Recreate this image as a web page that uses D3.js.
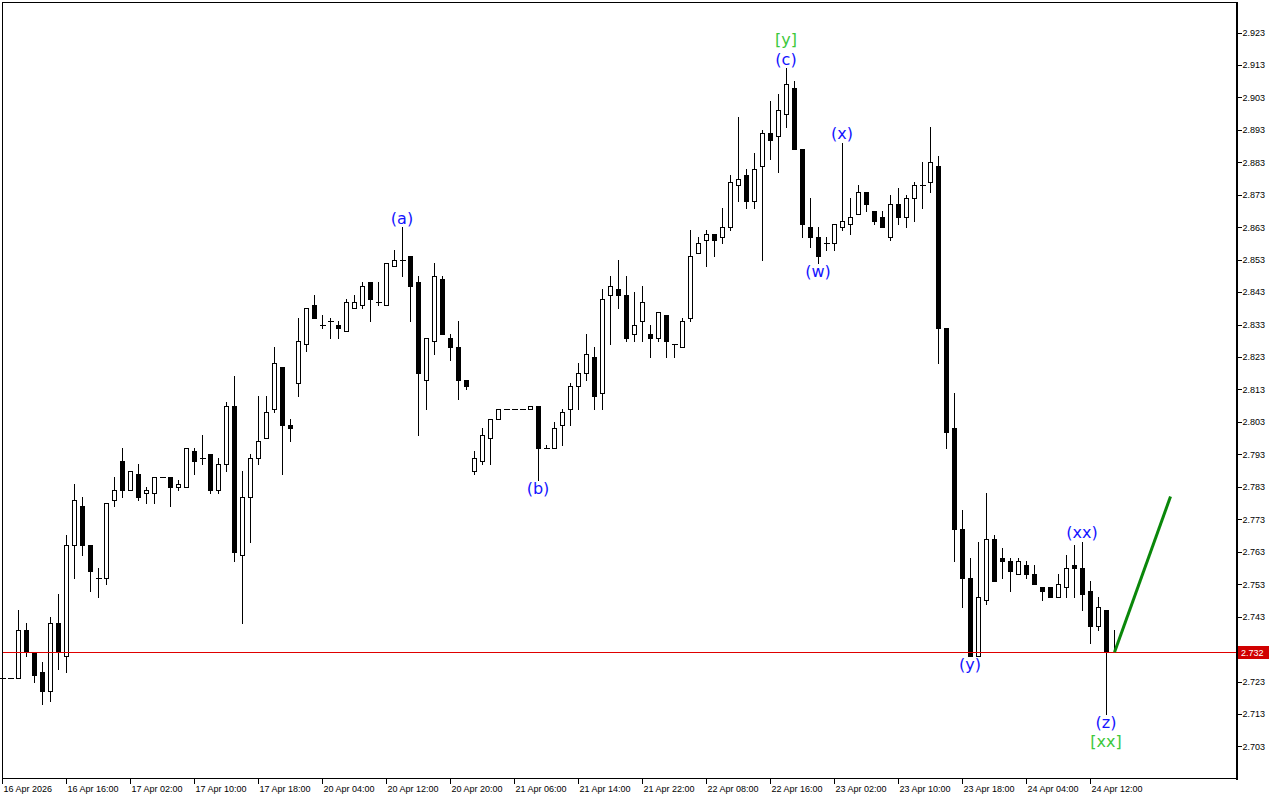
<!DOCTYPE html>
<html><head><meta charset="utf-8">
<script src="https://cdn.jsdelivr.net/npm/d3@7"></script>
<style>html,body{margin:0;padding:0;background:#fff;}svg{display:block;}</style>
</head><body>
<svg id="chart" width="1280" height="800"></svg>
<script>
// ---------- DATA ----------
const timeLabels = ["16 Apr 2026","16 Apr 16:00","17 Apr 02:00","17 Apr 10:00","17 Apr 18:00","20 Apr 04:00","20 Apr 12:00","20 Apr 20:00","21 Apr 06:00","21 Apr 14:00","21 Apr 22:00","22 Apr 08:00","22 Apr 16:00","23 Apr 02:00","23 Apr 10:00","23 Apr 18:00","24 Apr 04:00","24 Apr 12:00"];
const tickBars = [0,8,16,24,32,40,48,56,64,72,80,88,96,104,112,120,128,136];
const yTickValues = [2.703,2.713,2.723,2.733,2.743,2.753,2.763,2.773,2.783,2.793,2.803,2.813,2.823,2.833,2.843,2.853,2.863,2.873,2.883,2.893,2.903,2.913,2.923];

const open = [2.724,2.724,2.724,2.739,2.732,2.726,2.720,2.741,2.731,2.765,
2.777,2.765,2.755,2.755,2.779,2.791,2.782,2.787,2.781,2.781,
2.786,2.786,2.783,2.783,2.794,2.792,2.793,2.782,2.790,2.808,
2.762,2.780,2.792,2.798,2.807,2.820,2.802,2.815,2.827,2.839,
2.833,2.834,2.833,2.831,2.838,2.839,2.846,2.840,2.839,2.851,
2.853,2.854,2.846,2.816,2.828,2.847,2.829,2.826,2.816,2.788,
2.791,2.798,2.804,2.807,2.807,2.807,2.807,2.808,2.795,2.795,
2.802,2.807,2.814,2.818,2.823,2.812,2.842,2.844,2.842,2.830,
2.834,2.830,2.829,2.836,2.827,2.826,2.835,2.855,2.859,2.861,
2.860,2.863,2.876,2.879,2.871,2.882,2.892,2.891,2.898,2.906,
2.887,2.863,2.860,2.858,2.858,2.863,2.864,2.867,2.874,2.868,
2.866,2.860,2.870,2.866,2.872,2.876,2.877,2.882,2.832,2.801,
2.770,2.755,2.731,2.748,2.767,2.761,2.760,2.756,2.759,2.756,
2.752,2.752,2.749,2.752,2.759,2.758,2.751,2.740,2.745,2.732];

const high = [2.724,2.724,2.745,2.741,2.732,2.729,2.743,2.750,2.768,2.784,
2.780,2.765,2.758,2.778,2.786,2.795,2.788,2.790,2.783,2.786,
2.786,2.786,2.785,2.795,2.795,2.799,2.793,2.792,2.809,2.817,
2.788,2.793,2.811,2.811,2.826,2.820,2.804,2.835,2.838,2.842,
2.836,2.835,2.834,2.841,2.842,2.846,2.846,2.846,2.852,2.856,
2.863,2.854,2.848,2.829,2.852,2.848,2.830,2.834,2.816,2.794,
2.801,2.804,2.807,2.807,2.807,2.807,2.808,2.808,2.796,2.803,
2.807,2.815,2.821,2.830,2.826,2.844,2.848,2.853,2.848,2.843,
2.845,2.833,2.837,2.836,2.827,2.835,2.862,2.860,2.862,2.861,
2.869,2.879,2.897,2.881,2.886,2.893,2.902,2.904,2.912,2.908,
2.887,2.872,2.863,2.860,2.864,2.889,2.872,2.876,2.874,2.868,
2.868,2.873,2.875,2.873,2.877,2.883,2.894,2.885,2.832,2.812,
2.776,2.761,2.766,2.781,2.768,2.764,2.761,2.761,2.760,2.759,
2.752,2.752,2.756,2.762,2.765,2.766,2.754,2.749,2.745,2.739];

const low = [2.724,2.724,2.724,2.731,2.723,2.716,2.717,2.727,2.726,2.755,
2.762,2.751,2.749,2.753,2.777,2.780,2.782,2.779,2.778,2.778,
2.786,2.777,2.782,2.783,2.787,2.790,2.781,2.781,2.788,2.760,
2.741,2.766,2.790,2.798,2.806,2.787,2.797,2.811,2.825,2.835,
2.832,2.829,2.829,2.831,2.838,2.838,2.834,2.839,2.839,2.851,
2.848,2.834,2.799,2.807,2.824,2.830,2.822,2.810,2.813,2.787,
2.790,2.790,2.804,2.807,2.807,2.807,2.807,2.785,2.795,2.795,
2.796,2.802,2.807,2.816,2.807,2.807,2.827,2.838,2.828,2.828,
2.828,2.823,2.828,2.823,2.823,2.826,2.834,2.855,2.851,2.854,
2.858,2.862,2.871,2.869,2.869,2.853,2.884,2.880,2.894,2.887,
2.860,2.857,2.852,2.856,2.856,2.862,2.861,2.867,2.868,2.864,
2.863,2.859,2.864,2.863,2.865,2.869,2.874,2.821,2.795,2.760,
2.746,2.731,2.731,2.747,2.754,2.755,2.751,2.756,2.755,2.753,
2.748,2.749,2.749,2.749,2.749,2.745,2.735,2.739,2.713,2.732];

const close = [2.724,2.724,2.739,2.732,2.725,2.720,2.741,2.732,2.765,2.779,
2.765,2.757,2.755,2.778,2.782,2.782,2.788,2.780,2.782,2.786,
2.786,2.783,2.784,2.795,2.791,2.792,2.782,2.790,2.808,2.763,
2.780,2.792,2.797,2.806,2.821,2.802,2.801,2.828,2.838,2.835,
2.833,2.834,2.832,2.840,2.840,2.845,2.841,2.840,2.852,2.853,
2.853,2.845,2.818,2.829,2.848,2.830,2.826,2.816,2.814,2.792,
2.799,2.804,2.807,2.807,2.807,2.807,2.808,2.795,2.795,2.801,
2.806,2.814,2.818,2.824,2.811,2.841,2.845,2.842,2.829,2.833,
2.840,2.829,2.837,2.828,2.827,2.834,2.854,2.858,2.861,2.859,
2.863,2.877,2.878,2.871,2.881,2.892,2.890,2.899,2.907,2.887,
2.864,2.860,2.854,2.858,2.864,2.865,2.866,2.874,2.870,2.865,
2.863,2.870,2.866,2.872,2.876,2.876,2.883,2.832,2.800,2.770,
2.755,2.731,2.749,2.767,2.754,2.760,2.757,2.760,2.756,2.753,
2.751,2.749,2.753,2.758,2.758,2.750,2.740,2.746,2.732,2.732];

const lastPrice = 2.732;
const projectionBars = [139, 146];
const projectionPrices = [2.732, 2.780];

const labelTexts  = ["(a)","(b)","[y]","(c)","(w)","(x)","(y)","(xx)","(z)","[xx]"];
const labelBars   = [50, 67, 98, 98, 102, 105, 121, 135, 138, 138];
const labelSides  = ["above","below","above","above","below","above","below","above","below","below"];
const labelLevels = [1,1,2,1,1,1,1,1,1,2];
const labelDegree = ["minor","minor","major","minor","minor","minor","minor","minor","minor","major"];

// ---------- CHART ----------
const svg = d3.select("#chart");
const W = 1280, H = 800;
const plotRight = 1237, plotBottom = 779;
const x = d3.scaleLinear().domain([0, 154]).range([2.5, 2.5 + 8 * 154]);
const y = d3.scaleLinear().domain([2.703, 2.923]).range([746.4, 32.5]);
const bars = d3.range(open.length);

svg.append("rect").attr("width", W).attr("height", H).attr("fill", "#fff");

const px = i => Math.floor(x(i)) + 0.5;
const py = v => Math.round(y(v)) + 0.5;

// wicks
const g = svg.append("g").attr("shape-rendering", "crispEdges");
g.selectAll("line.wick").data(bars.filter(i => high[i] > low[i])).join("line")
  .attr("class", "wick")
  .attr("x1", i => px(i)).attr("x2", i => px(i))
  .attr("y1", i => Math.round(y(high[i])))
  .attr("y2", i => Math.round(y(low[i])) + 1)
  .attr("stroke", "#000").attr("stroke-width", 1);

// bodies
const bodyBars = bars.filter(i => py(open[i]) !== py(close[i]));
g.selectAll("rect.body").data(bodyBars).join("rect")
  .attr("class", "body")
  .attr("x", i => px(i) - 2).attr("width", 4)
  .attr("y", i => py(Math.max(open[i], close[i])))
  .attr("height", i => py(Math.min(open[i], close[i])) - py(Math.max(open[i], close[i])))
  .attr("fill", i => close[i] > open[i] ? "#fff" : "#000")
  .attr("stroke", "#000").attr("stroke-width", 1);

// doji / flat bars
const flatBars = bars.filter(i => py(open[i]) === py(close[i]));
g.selectAll("line.doji").data(flatBars).join("line")
  .attr("class", "doji")
  .attr("x1", i => px(i) - 2.5).attr("x2", i => px(i) + 3.5)
  .attr("y1", i => py(close[i])).attr("y2", i => py(close[i]))
  .attr("stroke", "#000").attr("stroke-width", 1);

// bid line
svg.append("line")
  .attr("x1", 2).attr("x2", plotRight)
  .attr("y1", py(lastPrice)).attr("y2", py(lastPrice))
  .attr("stroke", "#e00000").attr("stroke-width", 1).attr("shape-rendering", "crispEdges");

// projection line
svg.append("path")
  .datum(projectionBars.map((b, k) => [b, projectionPrices[k]]))
  .attr("d", d3.line().x(d => x(d[0])).y(d => y(d[1])))
  .attr("fill", "none").attr("stroke", "#0a870a").attr("stroke-width", 3);

// wave labels
const fontWave = "'DejaVu Sans', Verdana, sans-serif";
svg.append("g").selectAll("text").data(labelTexts.map((t, k) => k)).join("text")
  .attr("x", k => x(labelBars[k]) - 0.5)
  .attr("y", k => {
    const b = labelBars[k];
    const off = labelLevels[k] === 1 ? 8.5 : 28;
    const c = labelSides[k] === "above" ? y(high[b]) - off : y(low[b]) + off + 0.5;
    return c + 5;
  })
  .attr("text-anchor", "middle")
  .attr("font-family", fontWave).attr("font-size", 16)
  .attr("fill", k => labelDegree[k] === "major" ? "#3cc83c" : "#1414ff")
  .text(k => labelTexts[k]);

// frame
const frame = svg.append("g").attr("shape-rendering", "crispEdges").attr("stroke", "#000");
frame.append("line").attr("x1", 2.5).attr("x2", 2.5).attr("y1", 2).attr("y2", plotBottom);
frame.append("line").attr("x1", 2).attr("x2", plotRight).attr("y1", 2.5).attr("y2", 2.5);
frame.append("line").attr("x1", 2).attr("x2", plotRight).attr("y1", 778.5).attr("y2", 778.5);
frame.append("line").attr("x1", 1237).attr("x2", 1237).attr("y1", 2).attr("y2", 780).attr("stroke-width", 2);

// axes
const fontAxis = "'Liberation Sans', Arial, sans-serif";
const gy = svg.append("g").attr("transform", "translate(1237.5,0)")
  .call(d3.axisRight(y).tickValues(yTickValues).tickSize(4).tickPadding(1).tickFormat(d3.format(".3f")));
gy.select(".domain").remove();
gy.selectAll("line").attr("stroke", "#000").attr("shape-rendering", "crispEdges");
gy.selectAll("text").attr("font-family", fontAxis).attr("font-size", 9).attr("fill", "#000");

const gx = svg.append("g").attr("transform", "translate(-0.5,779)")
  .call(d3.axisBottom(x).tickValues(tickBars).tickSize(5).tickPadding(1).tickFormat((d, i) => timeLabels[i]));
gx.select(".domain").remove();
gx.selectAll("line").attr("stroke", "#000").attr("shape-rendering", "crispEdges");
gx.selectAll("text").attr("text-anchor", "start").attr("x", 1).attr("dy", "0.75em")
  .attr("font-family", fontAxis).attr("font-size", 9).attr("fill", "#000");

// price tag
const tagY = py(lastPrice);
svg.append("rect").attr("x", 1238).attr("y", tagY - 6.5).attr("width", 31).attr("height", 13).attr("fill", "#d10000");
svg.append("text").attr("x", 1241).attr("y", tagY + 3.5)
  .attr("font-family", fontAxis).attr("font-size", 9).attr("fill", "#fff").text(d3.format(".3f")(lastPrice));
</script>
</body></html>
